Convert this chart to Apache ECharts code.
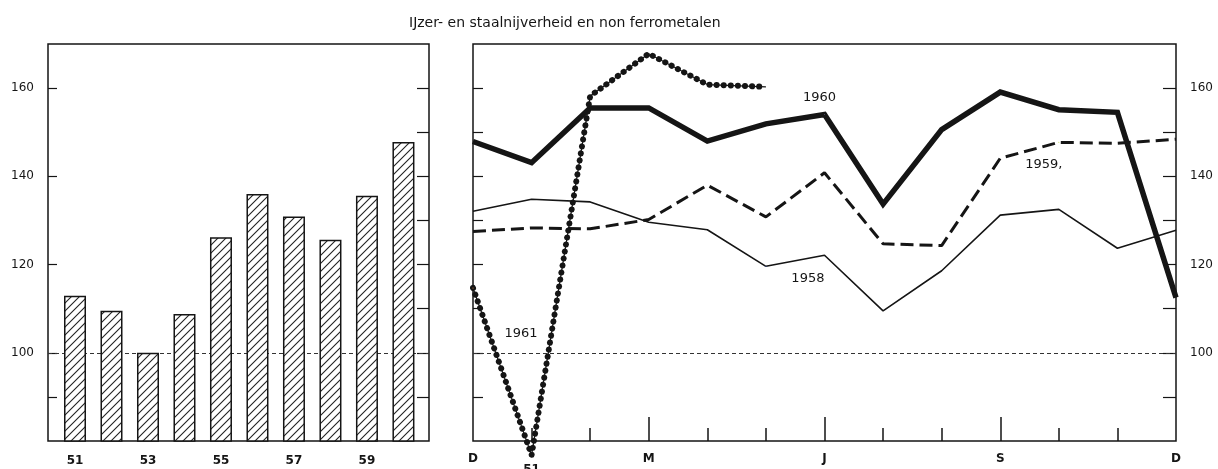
<!DOCTYPE html>
<html>
<head>
<meta charset="utf-8">
<script src="https://cdn.jsdelivr.net/npm/echarts@6/dist/echarts.min.js"></script>
<style>
html, body { margin: 0; padding: 0; background: #fff; }
#main { width: 1218px; height: 469px; }
</style>
</head>
<body>
<div id="main"></div>
<script>
// jaargemiddelden (links)
var years = [51, 52, 53, 54, 55, 56, 57, 58, 59, 60];
var yearIndex = [112.9, 109.5, 100, 108.8, 126.2, 136.0, 130.9, 125.6, 135.6, 147.8];
var yearLabels = [51, 53, 55, 57, 59];

// maandcijfers (rechts), 0 = december vorig jaar, 12 = december
var months = [0, 1, 2, 3, 4, 5, 6, 7, 8, 9, 10, 11, 12];
var monthLabels = { 0: 'D', 1: '51', 3: 'M', 6: 'J', 9: 'S', 12: 'D' };
var s1958 = [132.1, 134.8, 134.2, 129.6, 127.9, 119.6, 122.1, 109.5, 118.6, 131.2, 132.5, 123.7, 127.8];
var s1959 = [127.5, 128.3, 128.1, 130.2, 138.0, 130.8, 140.8, 124.7, 124.3, 144.1, 147.7, 147.5, 148.4];
var s1960 = [147.9, 143.1, 155.5, 155.5, 148.0, 151.9, 154.0, 133.7, 150.6, 159.1, 155.1, 154.5, 112.5];
var s1961 = [114.7, 76.8, 158.2, 167.8, 160.8, 160.3];
var yLabels = [100, 120, 140, 160];
var minorTicks = [90, 100, 110, 120, 130, 140, 150, 160];

var ink = '#151515';
var font = 'DejaVu Sans';

// arcering voor de staven
var hatch = document.createElement('canvas');
hatch.width = 8; hatch.height = 8;
var c = hatch.getContext('2d');
c.fillStyle = '#fff';
c.fillRect(0, 0, 8, 8);
c.strokeStyle = '#222';
c.lineWidth = 1.1;
c.beginPath();
c.moveTo(-1, 9); c.lineTo(9, -1);
c.moveTo(-1, 1); c.lineTo(1, -1);
c.moveTo(7, 9); c.lineTo(9, 7);
c.stroke();

function pairs(vals) {
    return vals.map(function (v, i) { return [months[i], v]; });
}
// label aan één punt van de lijn hangen
function withLabel(data, idx, text, offset) {
    data[idx] = {
        value: data[idx],
        symbol: 'circle',
        symbolSize: 1,
        label: {
            show: true, position: 'inside', offset: offset, formatter: text,
            color: ink, fontSize: 13, fontFamily: font
        }
    };
    return data;
}

var chart = echarts.init(document.getElementById('main'));

var dash100 = {
    silent: true, symbol: 'none', z: 1,
    label: { show: false },
    lineStyle: { type: [4, 3], width: 1, color: '#333' },
    data: [{ yAxis: 100 }]
};
var noLine = { show: false, onZero: false };

chart.setOption({
    animation: false,
    title: {
        text: 'IJzer- en staalnijverheid en non ferrometalen',
        left: 404, top: 11,
        textStyle: { fontSize: 14, fontWeight: 'normal', color: ink, fontFamily: font }
    },
    grid: [
        { left: 48, top: 44, right: 789, bottom: 28, outerBoundsMode: 'none', show: true, borderColor: ink, borderWidth: 1.5, backgroundColor: 'transparent' },
        { left: 473, top: 44, right: 42, bottom: 28, outerBoundsMode: 'none', show: true, borderColor: ink, borderWidth: 1.5, backgroundColor: 'transparent' }
    ],
    xAxis: [
        {
            gridIndex: 0, type: 'value', min: 50.26, max: 60.7,
            splitLine: { show: false }, axisLine: noLine, axisTick: { show: false },
            axisLabel: {
                customValues: yearLabels, margin: 14, color: ink, fontSize: 12, fontWeight: 'bold', fontFamily: font
            }
        },
        {
            gridIndex: 1, type: 'value', min: 0, max: 12,
            splitLine: { show: false }, axisLine: noLine,
            axisTick: { show: true, inside: true, length: 13, customValues: [1, 2, 4, 5, 7, 8, 10, 11], lineStyle: { color: ink, width: 1.5 } },
            axisLabel: {
                customValues: [0, 1, 3, 6, 9, 12], margin: 12, color: ink, fontSize: 12, fontWeight: 'bold', fontFamily: font,
                formatter: function (v) { return v === 1 ? '{low|' + monthLabels[v] + '}' : monthLabels[v]; },
                rich: { low: { padding: [11, 0, 0, 0], fontSize: 12, fontWeight: 'bold', color: ink, fontFamily: font } }
            }
        },
        {
            gridIndex: 1, type: 'value', min: 0, max: 12, position: 'bottom',
            splitLine: { show: false }, axisLine: noLine, axisLabel: { show: false },
            axisTick: { show: true, inside: true, length: 24, customValues: [3, 6, 9], lineStyle: { color: ink, width: 1.5 } }
        }
    ],
    yAxis: [
        {
            gridIndex: 0, type: 'value', min: 80, max: 170, interval: 10, position: 'left',
            splitLine: { show: false }, axisLine: noLine,
            axisTick: { show: true, inside: true, length: 9, customValues: [90, 100, 120, 140, 160], lineStyle: { color: ink, width: 1.2 } },
            axisLabel: { customValues: yLabels, margin: 14, color: ink, fontSize: 12, fontFamily: font }
        },
        {
            gridIndex: 0, type: 'value', min: 80, max: 170, interval: 10, position: 'right',
            splitLine: { show: false }, axisLine: noLine, axisLabel: { show: false },
            axisTick: { show: true, inside: true, length: 12, customValues: minorTicks, lineStyle: { color: ink, width: 1.2 } }
        },
        {
            gridIndex: 1, type: 'value', min: 80, max: 170, interval: 10, position: 'left',
            splitLine: { show: false }, axisLine: noLine, axisLabel: { show: false },
            axisTick: { show: true, inside: true, length: 10, customValues: minorTicks, lineStyle: { color: ink, width: 1.2 } }
        },
        {
            gridIndex: 1, type: 'value', min: 80, max: 170, interval: 10, position: 'right',
            splitLine: { show: false }, axisLine: noLine,
            axisTick: { show: true, inside: true, length: 13, customValues: minorTicks, lineStyle: { color: ink, width: 1.2 } },
            axisLabel: { customValues: yLabels, margin: 14, color: ink, fontSize: 12, fontFamily: font }
        }
    ],
    series: [
        {
            type: 'bar', xAxisIndex: 0, yAxisIndex: 0, z: 3,
            barWidth: 22,
            data: years.map(function (y, i) { return [y, yearIndex[i]]; }),
            itemStyle: { color: { image: hatch, repeat: 'repeat' }, borderColor: ink, borderWidth: 1.5 },
            markLine: dash100
        },
        {
            name: '1958', type: 'line', xAxisIndex: 1, yAxisIndex: 3, symbol: 'none',
            lineStyle: { color: ink, width: 1.6 },
            data: withLabel(pairs(s1958), 5, '1958', [42, 12]),
            markLine: dash100
        },
        {
            name: '1959', type: 'line', xAxisIndex: 1, yAxisIndex: 3, symbol: 'none',
            lineStyle: { color: ink, width: 3, type: [13, 6] },
            data: withLabel(pairs(s1959), 10, '1959,', [-15, 22])
        },
        {
            name: '1960', type: 'line', xAxisIndex: 1, yAxisIndex: 3, symbol: 'none',
            lineStyle: { color: ink, width: 5.5, join: 'miter' },
            data: withLabel(pairs(s1960), 6, '1960', [-5, -17])
        },
        {
            name: '1961', type: 'line', xAxisIndex: 1, yAxisIndex: 3, symbol: 'none', clip: false,
            lineStyle: { color: ink, width: 1.2 },
            data: withLabel(pairs(s1961), 0, '1961', [48, 46])
        },
        {
            name: '1961 punten', type: 'line', xAxisIndex: 1, yAxisIndex: 3, symbol: 'none', clip: false,
            lineStyle: { color: ink, width: 6, type: [0.1, 7], cap: 'round' },
            data: pairs(s1961)
        }
    ]
});
</script>
</body>
</html>
